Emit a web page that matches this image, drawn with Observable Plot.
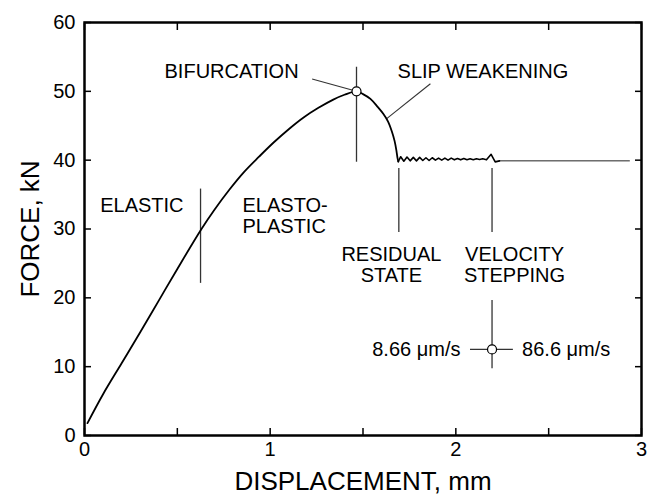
<!DOCTYPE html>
<html><head><meta charset="utf-8">
<script src="https://cdn.jsdelivr.net/npm/d3@7"></script>
<script src="https://cdn.jsdelivr.net/npm/@observablehq/plot@0.6"></script>
<style>body{margin:0;background:#fff}</style>
</head><body><div id="chart"></div>
<script>
// Force–displacement curve (mm, kN): loading, bifurcation and slip weakening
const curveX = [0.016, 0.10, 0.20, 0.30, 0.40, 0.50, 0.63, 0.70, 0.78, 0.86, 0.94, 1.02, 1.10, 1.18, 1.26, 1.34, 1.40, 1.465, 1.50, 1.54, 1.58, 1.61, 1.635, 1.655, 1.670, 1.680, 1.686, 1.690];
const curveF = [1.8, 6.0, 10.5, 15.0, 19.6, 24.2, 30.0, 32.8, 35.7, 38.3, 40.5, 42.6, 44.5, 46.2, 47.6, 48.8, 49.5, 50.0, 49.6, 48.9, 47.7, 46.7, 45.6, 44.2, 42.8, 41.4, 40.3, 39.8];
// Residual-state oscillations and velocity step
const oscX = [1.690, 1.703, 1.720, 1.737, 1.754, 1.771, 1.788, 1.805, 1.822, 1.839, 1.856, 1.873, 1.890, 1.907, 1.924, 1.941, 1.958, 1.975, 1.992, 2.009, 2.026, 2.043, 2.060, 2.077, 2.094, 2.111, 2.128, 2.145, 2.165, 2.190, 2.212, 2.235];
const oscF = [39.8, 40.5, 39.85, 40.45, 39.9, 40.4, 39.9, 40.4, 39.95, 40.35, 39.95, 40.35, 40.0, 40.3, 40.0, 40.3, 40.0, 40.3, 40.05, 40.25, 40.05, 40.25, 40.05, 40.2, 40.05, 40.2, 40.1, 40.2, 40.05, 40.85, 39.75, 39.9];
// Steady tail
const tailX = [2.235, 2.935];
const tailF = [39.9, 39.9];

// Annotation vertical markers
const markX  = [0.625, 1.465, 1.693, 2.195, 2.195];
const markLo = [22.1, 39.7, 29.5, 29.5, 9.7];
const markHi = [35.8, 53.5, 38.8, 38.8, 19.6];
// Velocity-step horizontal marker
const velX1 = [2.079], velX2 = [2.31], velF = [12.5];
// Leader lines
const leadX1 = [1.226, 1.863], leadF1 = [51.8, 51.1];
const leadX2 = [1.465, 1.626], leadF2 = [50.0, 46.0];
// Open circles
const circX = [1.465, 2.195], circF = [50.0, 12.5];
// Labels
const labelText = ["ELASTIC", "ELASTO-\nPLASTIC", "BIFURCATION", "SLIP WEAKENING", "RESIDUAL\nSTATE", "VELOCITY\nSTEPPING", "8.66 \u03bcm/s", "86.6 \u03bcm/s"];
const labelX = [0.309, 0.851, 0.792, 2.146, 1.653, 2.316, 2.025, 2.357];
const labelF = [33.4, 31.9, 52.9, 52.86, 24.8, 24.8, 12.5, 12.5];
const labelAnchor = ["middle", "start", "middle", "middle", "middle", "middle", "end", "start"];

// Ticks
const xTickLabels = [0, 1, 2, 3];
const xTickMarks = [0, 0.5, 1, 1.5, 2, 2.5, 3];
const yTicks = [0, 10, 20, 30, 40, 50, 60];

const rising = curveX.map((x, i) => ({x, F: curveF[i]}));
const osc = oscX.map((x, i) => ({x, F: oscF[i]}));
const tail = tailX.map((x, i) => ({x, F: tailF[i]}));
const marks = markX.map((x, i) => ({x, lo: markLo[i], hi: markHi[i]}));
const vel = velF.map((f, i) => ({x1: velX1[i], x2: velX2[i], F: f}));
const leads = leadX1.map((x, i) => ({x1: x, y1: leadF1[i], x2: leadX2[i], y2: leadF2[i]}));
const circs = circX.map((x, i) => ({x, F: circF[i]}));
const labels = labelText.map((t, i) => ({t, x: labelX[i], F: labelF[i], a: labelAnchor[i]}));

const annot = "#333";
const chart = Plot.plot({
  width: 647, height: 501,
  marginLeft: 84, marginRight: 6, marginTop: 22, marginBottom: 66,
  x: {domain: [0, 3]},
  y: {domain: [0, 60]},
  style: {fontFamily: "'Liberation Sans', Arial, Helvetica, sans-serif", fontSize: "20px", background: "#fff", color: "#000"},
  marks: [
    Plot.ruleX(marks, {x: "x", y1: "lo", y2: "hi", stroke: annot, strokeWidth: 1.3}),
    Plot.ruleY(vel, {y: "F", x1: "x1", x2: "x2", stroke: annot, strokeWidth: 1.3}),
    Plot.link(leads, {x1: "x1", y1: "y1", x2: "x2", y2: "y2", stroke: annot, strokeWidth: 1.1}),
    Plot.line(tail, {x: "x", y: "F", stroke: "#222", strokeWidth: 1}),
    Plot.line(rising, {x: "x", y: "F", stroke: "#000", strokeWidth: 1.8, curve: "catmull-rom"}),
    Plot.line(osc, {x: "x", y: "F", stroke: "#000", strokeWidth: 1.6, curve: "linear"}),
    Plot.dot(circs, {x: "x", y: "F", r: 4.5, fill: "#fff", stroke: "#000", strokeWidth: 1.2}),
    ...["middle", "start", "end"].map(a => Plot.text(labels.filter(d => d.a === a), {x: "x", y: "F", text: "t", textAnchor: a, fontSize: 20, lineHeight: 1.05, fill: "#000"})),
    Plot.axisX(xTickMarks, {anchor: "bottom", tickSize: 7, dy: -7, tickFormat: () => "", label: null, strokeWidth: 1.5}),
    Plot.axisX(xTickMarks, {anchor: "top", tickSize: 7, dy: 7, tickFormat: () => "", label: null, strokeWidth: 1.5}),
    Plot.axisY(yTicks, {anchor: "left", tickSize: 7, dx: 7, tickFormat: () => "", label: null, strokeWidth: 1.5}),
    Plot.axisY(yTicks, {anchor: "right", tickSize: 7, dx: -7, tickFormat: () => "", label: null, strokeWidth: 1.5}),
    Plot.axisX(xTickLabels, {anchor: "bottom", tickSize: 0, tickPadding: 6, tickFormat: d => String(d), fontSize: 20, label: null}),
    Plot.axisY(yTicks, {anchor: "left", tickSize: 0, tickPadding: 9, tickFormat: d => String(d), fontSize: 20, label: null}),
    Plot.frame({stroke: "#000", strokeWidth: 2.5}),
    Plot.text(["DISPLACEMENT, mm"], {frameAnchor: "bottom", lineAnchor: "bottom", textAnchor: "middle", dy: 54, fontSize: 26, fill: "#000"}),
    Plot.text(["FORCE, kN"], {frameAnchor: "left", textAnchor: "middle", lineAnchor: "middle", dx: -54, rotate: -90, fontSize: 26, fill: "#000"})
  ]
});
document.getElementById("chart").appendChild(chart);
</script>
</body></html>
